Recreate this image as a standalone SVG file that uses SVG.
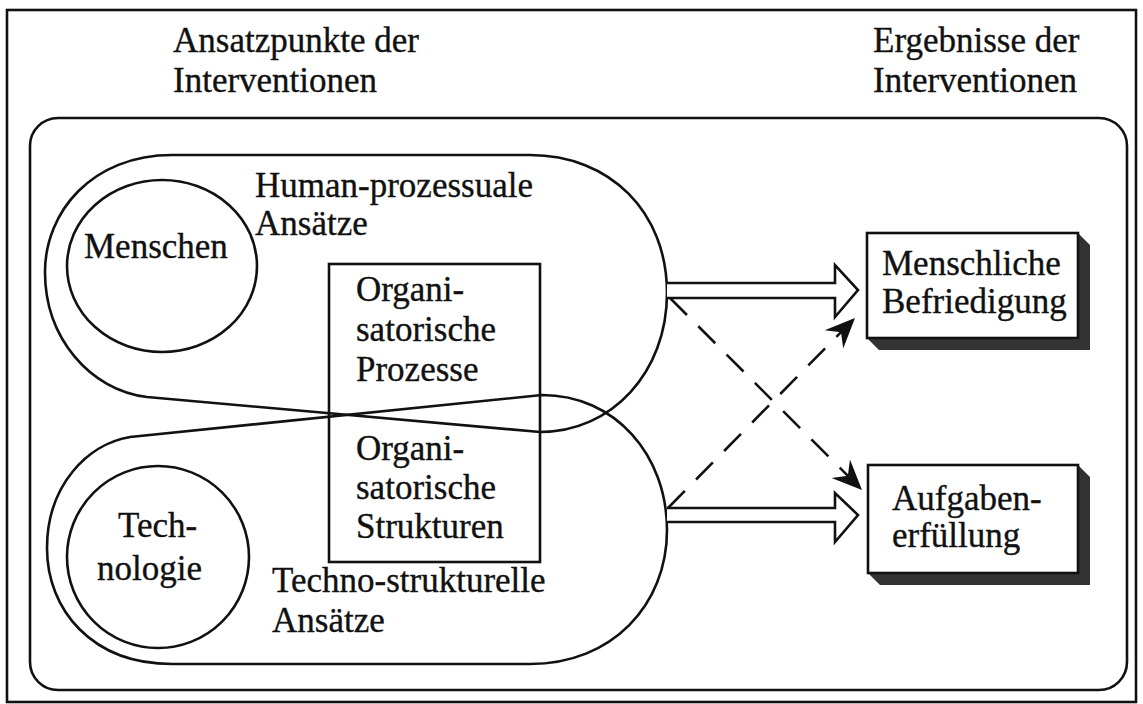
<svg xmlns="http://www.w3.org/2000/svg" width="1143" height="704" viewBox="0 0 1143 704">
<defs>
<style>
text{font-family:"Liberation Serif","Times New Roman",serif;font-size:35px;fill:#111;stroke:#111;stroke-width:0.35}
.ln{fill:none;stroke:#111;stroke-width:2.6}
.shadow{fill:#333}
.box{fill:#fff;stroke:#111;stroke-width:2.6}
.dash{fill:none;stroke:#111;stroke-width:2.6;stroke-dasharray:24 16}
.hollow{fill:#fff;stroke:#111;stroke-width:2.6;stroke-linejoin:miter}
</style>
<marker id="ah" markerWidth="34" markerHeight="28" viewBox="-30 -14 34 28" refX="0" refY="0" orient="auto" markerUnits="userSpaceOnUse">
<path d="M0,0 L-30,-13 L-20,0 L-30,13 Z" fill="#111"/>
</marker>
</defs>
<rect width="1143" height="704" fill="#fff"/>
<g id="frame">
<rect x="7" y="10" width="1129" height="692" class="ln" stroke-width="2"/>
<rect x="30" y="118" width="1097" height="572" rx="28" ry="28" class="ln"/>
</g>
<g id="headers">
<text x="173" y="52">Ansatzpunkte der</text>
<text x="173" y="92">Interventionen</text>
<text x="873" y="52">Ergebnisse der</text>
<text x="873" y="92">Interventionen</text>
</g>
<g id="human-loop">
<path class="ln" d="M147,397 L540,432 C612,432 667,372 667,293 C667,212 610,155 530,155 L172,155 C92,155 45,212 45,272 C45,338 90,390 147,397 Z"/>
<text x="255" y="197">Human-prozessuale</text>
<text x="255" y="235">Ansätze</text>
</g>
<g id="techno-loop">
<path class="ln" d="M130,437 L542,395 C615,395 667,455 667,530 C667,605 612,664 530,664 L172,664 C92,664 47,610 47,548 C47,485 88,444 130,437 Z"/>
<text x="272" y="592">Techno-strukturelle</text>
<text x="272" y="632">Ansätze</text>
</g>
<g id="menschen">
<ellipse cx="162" cy="266" rx="95" ry="86" class="ln"/>
<text x="84" y="258">Menschen</text>
</g>
<g id="technologie">
<ellipse cx="158" cy="557" rx="91" ry="91" class="ln"/>
<text x="118" y="537">Tech-</text>
<text x="97" y="580">nologie</text>
</g>
<g id="org-box">
<rect x="329" y="264" width="211" height="298" class="ln"/>
<text x="356" y="301">Organi-</text>
<text x="356" y="341">satorische</text>
<text x="356" y="381">Prozesse</text>
<text x="356" y="460">Organi-</text>
<text x="356" y="499">satorische</text>
<text x="356" y="538">Strukturen</text>
</g>
<g id="befriedigung">
<path class="shadow" d="M867,338 L879,350 L1090,350 L1090,245 L1078,233 L1078,338 Z"/>
<rect x="867" y="233" width="211" height="105" class="box"/>
<text x="882" y="275">Menschliche</text>
<text x="882" y="313">Befriedigung</text>
</g>
<g id="aufgaben">
<path class="shadow" d="M868,573 L880,585 L1090,585 L1090,477 L1078,465 L1078,573 Z"/>
<rect x="868" y="465" width="210" height="108" class="box"/>
<text x="892" y="510">Aufgaben-</text>
<text x="892" y="547">erfüllung</text>
</g>
<g id="connectors">
<path class="hollow" d="M667,283 L835,283 L835,265 L858,290 L835,317 L835,298 L667,298"/>
<path class="hollow" d="M667,508 L835,508 L835,493 L858,515 L835,542 L835,522 L667,522"/>
<line class="dash" x1="670" y1="298" x2="862" y2="490" marker-end="url(#ah)"/>
<line class="dash" x1="668" y1="508" x2="855" y2="318" marker-end="url(#ah)"/>
</g>
</svg>
